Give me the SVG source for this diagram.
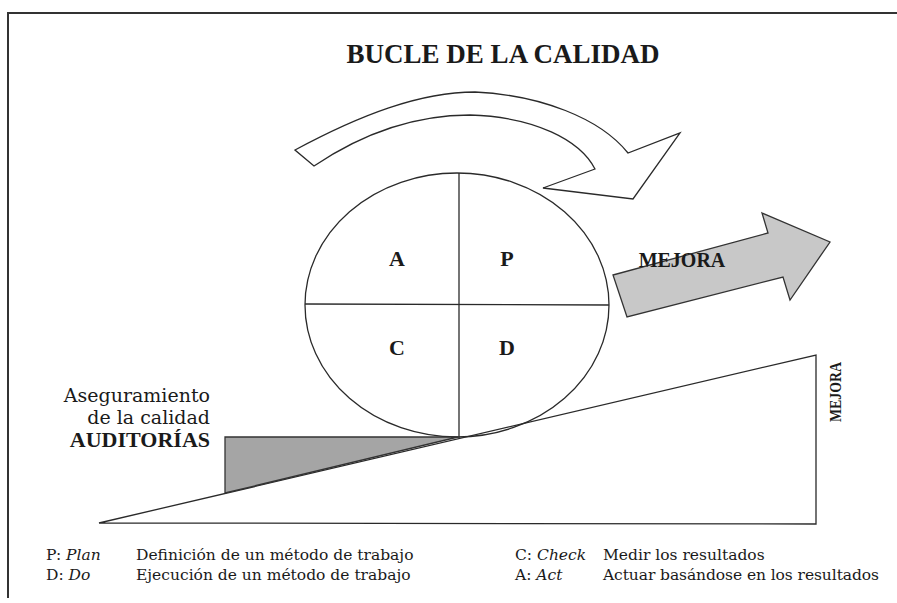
<svg xmlns="http://www.w3.org/2000/svg" width="897" height="603" viewBox="0 0 897 603">
<style>
.serif{font-family:"Liberation Serif","DejaVu Serif",serif;fill:#1a1a1a}
.wide{font-family:"DejaVu Serif","Liberation Serif",serif;fill:#1a1a1a}
.b{font-weight:bold}
.i{font-style:italic}
.ln{fill:none;stroke:#2a2a2a;stroke-width:1.3}
.leg{font-size:15.5px}
</style>
<rect width="897" height="603" fill="#ffffff"/>
<g id="frame">
<path d="M8,598 V13 H897" fill="none" stroke="#333" stroke-width="2"/>
</g>
<g id="title">
<text class="serif b" x="503" y="63" font-size="27" text-anchor="middle">BUCLE DE LA CALIDAD</text>
</g>
<g id="loop-arrow">
<path class="ln" d="M295,150 C360,115 420,92 475,92 C540,95 600,118 628,153 L680,133 L633,199 L543,188 L595,169 C580,140 535,117 470,115 C410,115 360,135 314,166 Z" style="fill:#fff"/>
</g>
<g id="pdca-wheel">
<ellipse class="ln" cx="457" cy="305" rx="152" ry="132"/>
<line class="ln" x1="459" y1="173" x2="459" y2="438"/>
<line class="ln" x1="305" y1="304" x2="609" y2="305"/>
<text class="serif b" x="397" y="266" font-size="22" text-anchor="middle">A</text>
<text class="serif b" x="507" y="266" font-size="22" text-anchor="middle">P</text>
<text class="serif b" x="397" y="355" font-size="22" text-anchor="middle">C</text>
<text class="serif b" x="507" y="355" font-size="22" text-anchor="middle">D</text>
</g>
<g id="mejora-arrow">
<path d="M613,275 L768,233 L762,213 L830,242 L790,300 L783,277 L627,317 Z" fill="#c8c8c8" stroke="#333" stroke-width="1.3"/>
<text class="serif b" x="682" y="267" font-size="20" text-anchor="middle">MEJORA</text>
</g>
<g id="ramp">
<path class="ln" d="M99,523 L816,355 L816,524 L99,523 Z"/>
<text class="serif b" transform="translate(841,422) rotate(-90)" font-size="17" textLength="60" lengthAdjust="spacingAndGlyphs">MEJORA</text>
</g>
<g id="auditorias">
<path d="M225,437 L458,437 L225,493 Z" fill="#a5a5a5" stroke="#333" stroke-width="1.3"/>
<text class="wide" x="210" y="402" font-size="19" text-anchor="end">Aseguramiento</text>
<text class="wide" x="210" y="424" font-size="19" text-anchor="end">de la calidad</text>
<text class="serif b" x="210" y="447" font-size="22" text-anchor="end">AUDITORÍAS</text>
</g>
<g id="legend">
<text class="wide leg" x="46" y="560">P: <tspan class="i">Plan</tspan></text>
<text class="wide leg" x="46" y="580">D: <tspan class="i">Do</tspan></text>
<text class="wide leg" x="136" y="560">Definición de un método de trabajo</text>
<text class="wide leg" x="136" y="580">Ejecución de un método de trabajo</text>
<text class="wide leg" x="515" y="560">C: <tspan class="i">Check</tspan></text>
<text class="wide leg" x="515" y="580">A: <tspan class="i">Act</tspan></text>
<text class="wide leg" x="603" y="560">Medir los resultados</text>
<text class="wide leg" x="603" y="580" textLength="276">Actuar basándose en los resultados</text>
</g>
</svg>
